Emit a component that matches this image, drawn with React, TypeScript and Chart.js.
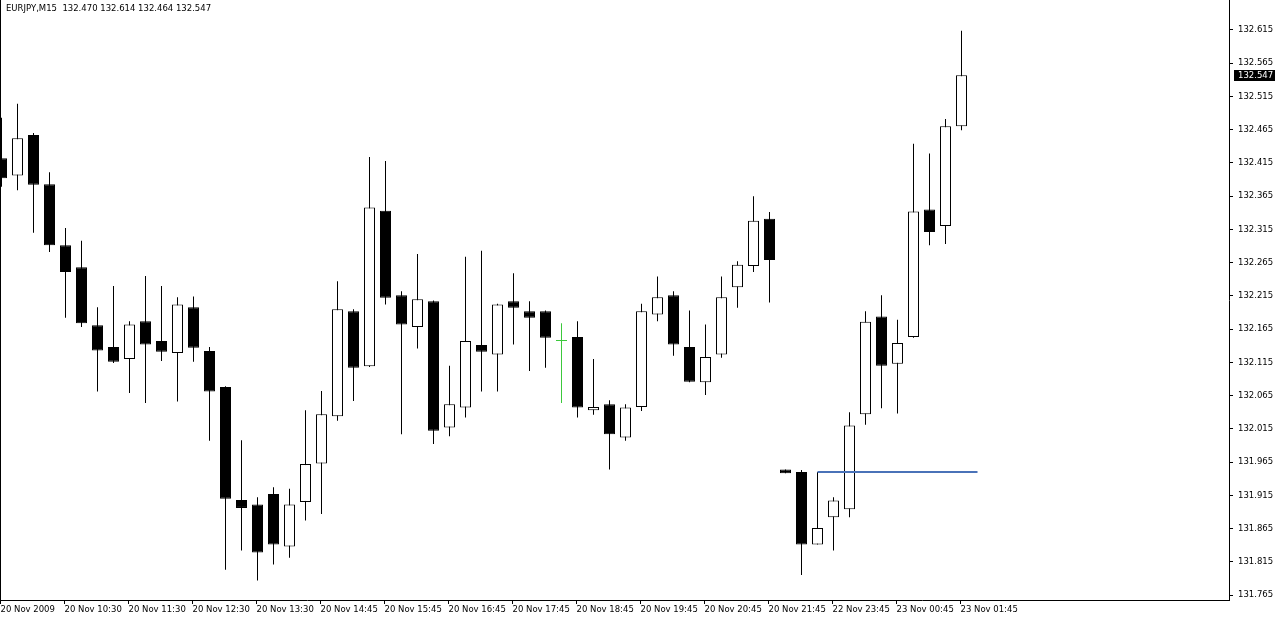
import React, { useEffect, useRef } from "react";
import { Chart, registerables } from "chart.js";

Chart.register(...registerables);

// ---- data (EURJPY, M15) ----
const SYMBOL = "EURJPY";
const PERIOD = "M15";

const OPEN = [
  132.422, 132.396, 132.457, 132.383, 132.291, 132.258, 132.171, 132.138, 132.12, 132.177,
  132.147, 132.129, 132.198, 132.132, 132.078, 131.908, 131.901, 131.917, 131.838, 131.905,
  131.963, 132.034, 132.192, 132.109, 132.343, 132.216, 132.168, 132.207, 132.017, 132.047,
  132.141, 132.127, 132.207, 132.192, 132.192, 132.147, 132.153, 132.043, 132.052, 132.002,
  132.048, 132.187, 132.216, 132.138, 132.085, 132.127, 132.228, 132.26, 132.331, 131.954,
  131.95, 131.841, 131.882, 131.894, 132.037, 132.184, 132.113, 132.153, 132.345, 132.32,
  132.47,
];
const HIGH = [
  132.483, 132.504, 132.46, 132.401, 132.317, 132.298, 132.198, 132.23, 132.177, 132.245,
  132.23, 132.213, 132.214, 132.138, 132.079, 131.998, 131.912, 131.927, 131.925, 132.043,
  132.072, 132.237, 132.195, 132.424, 132.418, 132.222, 132.278, 132.208, 132.11, 132.274,
  132.283, 132.203, 132.249, 132.207, 132.193, 132.174, 132.177, 132.12, 132.058, 132.052,
  132.203, 132.244, 132.222, 132.193, 132.172, 132.244, 132.267, 132.365, 132.341, 131.954,
  131.953, 131.95, 131.912, 132.04, 132.192, 132.216, 132.179, 132.444, 132.429, 132.481,
  132.614,
];
const LOW = [
  132.379, 132.374, 132.31, 132.281, 132.182, 132.168, 132.071, 132.114, 132.069, 132.054,
  132.117, 132.056, 132.116, 131.997, 131.803, 131.832, 131.787, 131.811, 131.821, 131.877,
  131.887, 132.027, 132.057, 132.108, 132.202, 132.007, 132.136, 131.992, 132.004, 132.032,
  132.071, 132.071, 132.142, 132.102, 132.107, 132.054, 132.032, 132.036, 131.954, 131.997,
  132.042, 132.177, 132.125, 132.085, 132.066, 132.122, 132.197, 132.251, 132.205, 131.948,
  131.795, 131.841, 131.832, 131.882, 132.021, 132.046, 132.038, 132.152, 132.291, 132.293,
  132.464,
];
const CLOSE = [
  132.392, 132.452, 132.382, 132.291, 132.251, 132.174, 132.133, 132.116, 132.172, 132.142,
  132.131, 132.202, 132.137, 132.071, 131.91, 131.896, 131.829, 131.841, 131.901, 131.962,
  132.037, 132.195, 132.107, 132.348, 132.212, 132.172, 132.21, 132.012, 132.052, 132.147,
  132.131, 132.202, 132.197, 132.182, 132.152, 132.147, 132.047, 132.048, 132.007, 132.047,
  132.192, 132.213, 132.142, 132.086, 132.123, 132.213, 132.262, 132.328, 132.269, 131.948,
  131.841, 131.866, 131.907, 132.02, 132.176, 132.11, 132.144, 132.342, 132.311, 132.47,
  132.547,
];

// bar index at which each time label sits, and the labels
const X_TICK_INDEX = [0, 4, 8, 12, 16, 20, 24, 28, 32, 36, 40, 44, 48, 52, 56, 60];
const X_TICK_LABELS = [
  "20 Nov 2009", "20 Nov 10:30", "20 Nov 11:30", "20 Nov 12:30", "20 Nov 13:30",
  "20 Nov 14:45", "20 Nov 15:45", "20 Nov 16:45", "20 Nov 17:45", "20 Nov 18:45",
  "20 Nov 19:45", "20 Nov 20:45", "20 Nov 21:45", "22 Nov 23:45", "23 Nov 00:45",
  "23 Nov 01:45",
];

const Y_TICKS = [
  131.765, 131.815, 131.865, 131.915, 131.965, 132.015, 132.065, 132.115, 132.165,
  132.215, 132.265, 132.315, 132.365, 132.415, 132.465, 132.515, 132.565, 132.615,
];
const Y_MIN = 131.7575;
const Y_MAX = 132.6601;

// horizontal level line (blue)
const LEVEL_PRICE = 131.95;
const LEVEL_FROM = 51;
const LEVEL_TO = 61;

// ---- styling ----
const UP_FILL = "#ffffff";
const DOWN_FILL = "#000000";
const DOJI_COLOR = "#3cc83c";
const LEVEL_COLOR = "#4a72b8";
const FONT_FAMILY = "'DejaVu Sans', sans-serif";
const FONT_SIZE = 8.5;

const W = 1275;
const H = 619;
const AXIS_W = 46;
const AXIS_H = 19;
const BAR_STEP = 16;
const X_MIN = -1.5 / BAR_STEP;
const X_MAX = X_MIN + (W - AXIS_W) / BAR_STEP;

const overlay = {
  id: "mt4Overlay",
  afterDraw(chart: any) {
    const { ctx, chartArea, scales } = chart;
    const last = OPEN.length - 1;
    const f = (v: number) => v.toFixed(3);
    ctx.save();
    // left frame line
    ctx.strokeStyle = "#000";
    ctx.lineWidth = 1;
    ctx.beginPath();
    ctx.moveTo(chartArea.left + 0.5, chartArea.top);
    ctx.lineTo(chartArea.left + 0.5, chartArea.bottom);
    ctx.stroke();
    // header text
    ctx.font = `${FONT_SIZE}px ${FONT_FAMILY}`;
    ctx.fillStyle = "#000";
    ctx.textAlign = "left";
    ctx.textBaseline = "alphabetic";
    ctx.fillText(
      `${SYMBOL},${PERIOD}  ${f(OPEN[last])} ${f(HIGH[last])} ${f(LOW[last])} ${f(CLOSE[last])}`,
      6,
      11
    );
    // current price tag
    const py = scales.y.getPixelForValue(CLOSE[last]);
    const bx = chartArea.right + 5;
    ctx.fillStyle = "#000";
    ctx.fillRect(bx, Math.round(py) - 5, chart.width - bx, 11);
    ctx.fillStyle = "#fff";
    ctx.textBaseline = "middle";
    ctx.fillText(f(CLOSE[last]), chartArea.right + 9, Math.round(py) + 0.5);
    ctx.restore();
  },
};

export default function App() {
  const ref = useRef<HTMLCanvasElement>(null);

  useEffect(() => {
    document.body.style.margin = "0";
    const canvas = ref.current;
    if (!canvas) return;
    const idx = OPEN.map((_, i) => i);
    const doji = (i: number) => OPEN[i] === CLOSE[i];
    const bodyFill = idx.map((i) => (doji(i) ? DOJI_COLOR : CLOSE[i] > OPEN[i] ? UP_FILL : DOWN_FILL));
    const edge = idx.map((i) => (doji(i) ? DOJI_COLOR : "#000000"));
    const font = { family: FONT_FAMILY, size: FONT_SIZE };
    const grid = {
      display: true,
      drawOnChartArea: false,
      drawTicks: true,
      tickLength: 4,
      color: "#000",
      offset: false,
    };
    const border = { display: true, color: "#000", width: 1 };

    const chart = new Chart(canvas, {
      type: "bar",
      data: {
        datasets: [
          {
            type: "line",
            data: [
              { x: LEVEL_FROM, y: LEVEL_PRICE },
              { x: LEVEL_TO, y: LEVEL_PRICE },
            ],
            borderColor: LEVEL_COLOR,
            borderWidth: 2,
            pointRadius: 0,
            order: 0,
            clip: 0,
          } as any,
          {
            type: "bar",
            data: idx.map((i) => ({ x: i, y: [OPEN[i], CLOSE[i]] })),
            backgroundColor: bodyFill,
            borderColor: edge,
            borderWidth: 1,
            borderSkipped: false,
            barThickness: 11,
            minBarLength: 1,
            grouped: false,
            inflateAmount: 0,
            order: 1,
            clip: 0,
          } as any,
          {
            type: "bar",
            data: idx.map((i) => ({ x: i, y: [LOW[i], HIGH[i]] })),
            backgroundColor: edge,
            borderWidth: 0,
            barThickness: 1,
            grouped: false,
            inflateAmount: 0,
            order: 2,
            clip: 0,
          } as any,
        ],
      },
      options: {
        responsive: false,
        animation: false,
        layout: { padding: 0 },
        plugins: {
          legend: { display: false },
          tooltip: { enabled: false },
          title: { display: false },
        },
        scales: {
          x: {
            type: "linear",
            min: X_MIN,
            max: X_MAX,
            offset: false,
            grid,
            border,
            ticks: {
              autoSkip: false,
              maxRotation: 0,
              minRotation: 0,
              align: "start",
              padding: 1,
              color: "#000",
              font,
              callback: (_v: any, i: number) => X_TICK_LABELS[i],
            },
            afterBuildTicks: (s: any) => {
              s.ticks = X_TICK_INDEX.map((v) => ({ value: v - 1 / BAR_STEP }));
            },
            afterFit: (s: any) => {
              s.height = AXIS_H;
              s.paddingLeft = 0;
              s.paddingRight = 0;
            },
          },
          y: {
            type: "linear",
            position: "right",
            min: Y_MIN,
            max: Y_MAX,
            beginAtZero: false,
            grid,
            border,
            ticks: {
              padding: 5,
              color: "#000",
              font,
              callback: (v: any) => Number(v).toFixed(3),
            },
            afterBuildTicks: (s: any) => {
              s.ticks = Y_TICKS.map((v) => ({ value: v }));
            },
            afterFit: (s: any) => {
              s.width = AXIS_W;
              s.paddingTop = 0;
              s.paddingBottom = 0;
            },
          },
        },
      } as any,
      plugins: [overlay],
    });
    return () => chart.destroy();
  }, []);

  return (
    <div style={{ position: "absolute", left: 0, top: 0, width: W, height: H, background: "#fff" }}>
      <canvas ref={ref} width={W} height={H} style={{ display: "block", width: W, height: H }} />
    </div>
  );
}
